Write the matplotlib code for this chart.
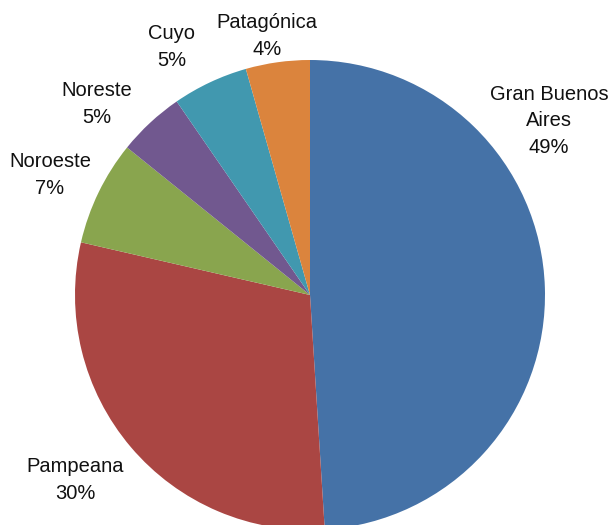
import matplotlib
matplotlib.use("Agg")
import matplotlib.pyplot as plt
import numpy as np

# regions of Argentina, share in percent
regions = ["Gran Buenos\nAires", "Pampeana", "Noroeste", "Noreste", "Cuyo", "Patagónica"]
shares = [49.0, 29.6, 7.2, 4.6, 5.2, 4.4]
pct_labels = ["49%", "30%", "7%", "5%", "5%", "4%"]
colors = ["#4572A7", "#AA4643", "#89A54E", "#71588F", "#4198AF", "#DB843D"]

# label anchor positions (pixels in the 611x525 picture)
label_px = [(549, 121), (75, 480), (50, 175), (97, 104), (172, 47), (267, 36)]

W, H = 611, 525
cx, cy, R = 310, 295, 235

plt.rcParams['font.family'] = ['Liberation Sans', 'DejaVu Sans']

fig = plt.figure(figsize=(W / 100, H / 100), dpi=100)
ax = fig.add_axes([0, 0, 1, 1])

ax.pie(shares, colors=colors, startangle=90, counterclock=False,
       radius=1, center=(0, 0), wedgeprops=dict(edgecolor="none"))

ax.set_xlim(-cx / R, (W - cx) / R)
ax.set_ylim(-(H - cy) / R, cy / R)
ax.set_aspect("auto")
ax.axis("off")

def px2data(px, py):
    return (px - cx) / R, (cy - py) / R

for name, pct, (px, py) in zip(regions, pct_labels, label_px):
    x, y = px2data(px, py)
    ax.text(x, y, name + "\n" + pct, ha="center", va="center",
            fontsize=14.5, linespacing=1.5, color="#111111")

fig.savefig("out.png", dpi=100)
